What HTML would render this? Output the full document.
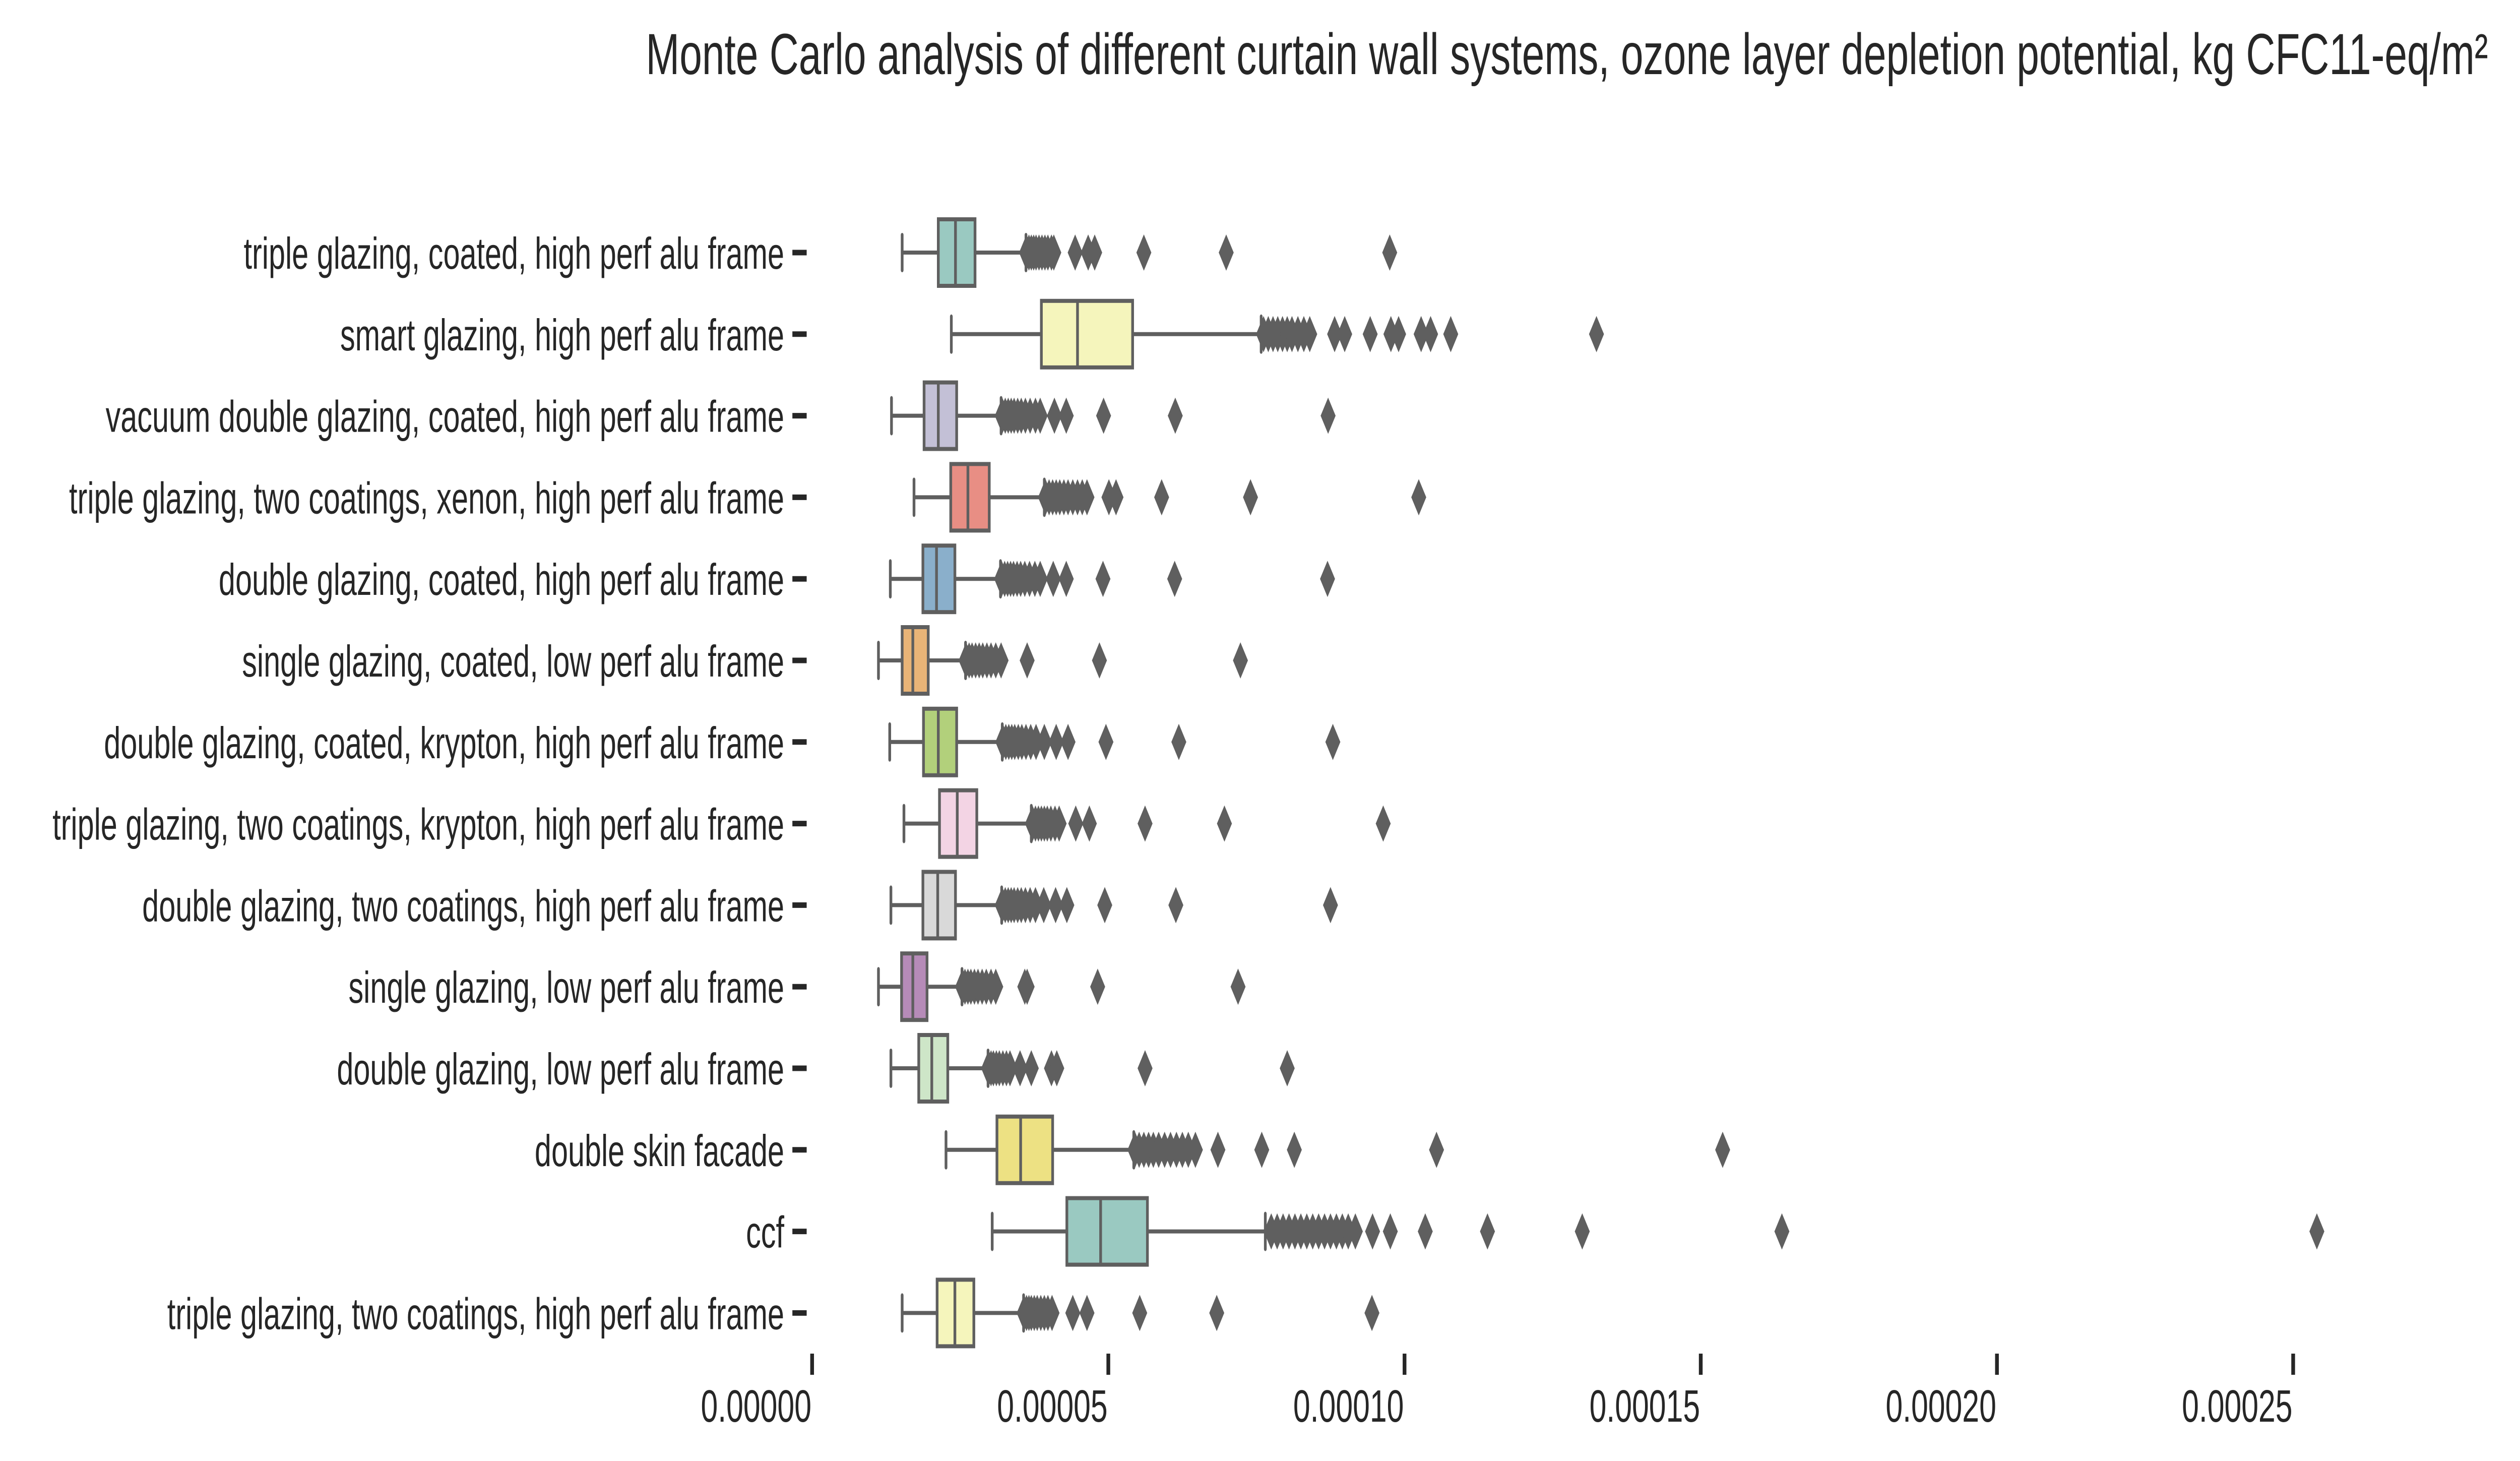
<!DOCTYPE html>
<html><head><meta charset="utf-8">
<style>
html,body{margin:0;padding:0;background:#fff;overflow:hidden;width:100%;height:100%;}
svg{display:block;width:100vw;height:100vh;}
text{font-family:"Liberation Sans",Arial,sans-serif;fill:#262626;}
</style></head>
<body>
<svg id="chart" viewBox="0 0 7410 2898" preserveAspectRatio="none" xmlns="http://www.w3.org/2000/svg">
<rect width="7410" height="2898" fill="#fff"/>
<text x="1899" y="147" font-size="115" textLength="5417" lengthAdjust="spacingAndGlyphs">Monte Carlo analysis of different curtain wall systems, ozone layer depletion potential, kg CFC11-eq/m²</text>
<g id="plot"></g>
</svg>
<script>
// values in units of 1e-5 kg CFC11-eq/m²
const categories = ["triple glazing, coated, high perf alu frame","smart glazing, high perf alu frame","vacuum double glazing, coated, high perf alu frame","triple glazing, two coatings, xenon, high perf alu frame","double glazing, coated, high perf alu frame","single glazing, coated, low perf alu frame","double glazing, coated, krypton, high perf alu frame","triple glazing, two coatings, krypton, high perf alu frame","double glazing, two coatings, high perf alu frame","single glazing, low perf alu frame","double glazing, low perf alu frame","double skin facade","ccf","triple glazing, two coatings, high perf alu frame"];
const whiskerLow = [1.52,2.35,1.34,1.72,1.32,1.12,1.31,1.55,1.33,1.12,1.33,2.26,3.04,1.52];
const q1 = [2.13,3.87,1.89,2.34,1.87,1.52,1.88,2.15,1.87,1.51,1.80,3.12,4.30,2.11];
const median = [2.42,4.48,2.13,2.63,2.10,1.70,2.13,2.45,2.12,1.70,2.02,3.52,4.87,2.41];
const q3 = [2.75,5.41,2.44,2.99,2.41,1.96,2.44,2.78,2.42,1.94,2.29,4.06,5.66,2.73];
const whiskerHigh = [3.61,7.58,3.19,3.92,3.18,2.59,3.21,3.70,3.20,2.53,2.97,5.43,7.65,3.57];
const outliers = [
[3.62,3.66,3.70,3.74,3.78,3.83,3.88,3.93,3.98,4.04,4.08,4.44,4.66,4.77,5.6,6.99,9.75],
[7.62,7.7,7.78,7.86,7.94,8.02,8.1,8.2,8.3,8.4,8.82,8.99,9.42,9.77,9.9,10.28,10.44,10.78,13.24],
[3.21,3.26,3.31,3.36,3.41,3.47,3.53,3.6,3.68,3.77,3.85,4.09,4.29,4.92,6.13,8.71],
[3.94,4.0,4.06,4.12,4.18,4.25,4.32,4.4,4.48,4.56,4.64,5.01,5.13,5.9,7.4,10.24],
[3.2,3.25,3.3,3.35,3.4,3.46,3.52,3.59,3.67,3.76,3.85,4.07,4.29,4.91,6.12,8.70],
[2.6,2.65,2.7,2.76,2.82,2.88,2.95,3.02,3.1,3.19,3.63,4.85,7.23],
[3.22,3.27,3.32,3.37,3.42,3.48,3.54,3.61,3.69,3.78,3.92,4.12,4.32,4.96,6.19,8.79],
[3.72,3.77,3.82,3.87,3.92,3.97,4.03,4.1,4.17,4.45,4.68,5.62,6.96,9.64],
[3.21,3.26,3.31,3.36,3.41,3.47,3.53,3.6,3.68,3.77,3.91,4.11,4.30,4.94,6.14,8.75],
[2.54,2.58,2.63,2.68,2.74,2.8,2.87,2.94,3.02,3.1,3.59,3.63,4.82,7.19],
[2.98,3.02,3.06,3.11,3.16,3.22,3.28,3.34,3.51,3.70,4.04,4.13,5.62,8.02],
[5.45,5.52,5.6,5.68,5.76,5.85,5.95,6.05,6.15,6.25,6.35,6.47,6.85,7.59,8.14,10.54,15.37],
[7.75,7.85,7.95,8.05,8.15,8.25,8.35,8.45,8.55,8.65,8.75,8.85,8.95,9.05,9.17,9.46,9.76,10.35,11.4,13.0,16.37,25.40],
[3.58,3.62,3.66,3.7,3.75,3.8,3.86,3.92,3.98,4.05,4.4,4.64,5.53,6.83,9.45]
];
const xTicks = [0,5,10,15,20,25];
const xTickLabels = ["0.00000","0.00005","0.00010","0.00015","0.00020","0.00025"];
const colors = ["#9ac9c1","#f5f5bc","#c3c0d6","#e88e84","#8aafcb","#e9b477","#b2d07b","#f3d4e4","#d9d9d9","#b68bb8","#cee6c8","#ede183","#9ac9c1","#f5f5bc"];

const NS="http://www.w3.org/2000/svg";
const g=document.getElementById('plot');
const X0=2388, PX=871/5;
function xs(v){return X0+v*PX;}
function ys(i){return 501+i*161.8;}
const LC="#5f5f5f";
function mk(tag,attrs){const e=document.createElementNS(NS,tag);for(const k in attrs)e.setAttribute(k,attrs[k]);g.appendChild(e);return e;}

categories.forEach((c,i)=>{
  const y=ys(i);
  const t=mk('text',{x:2306,y:y+32,'font-size':88,'text-anchor':'end'});
  t.textContent=c;
  
  
  const tk=mk('line',{x1:2330,x2:2372,y1:y,y2:y,stroke:'#262626','stroke-width':11});
  
  
  const w1=mk('line',{x1:xs(whiskerLow[i]),x2:xs(q1[i]),y1:y,y2:y,stroke:LC,'stroke-width':8});
  
  
  const w2=mk('line',{x1:xs(q3[i]),x2:xs(whiskerHigh[i]),y1:y,y2:y,stroke:LC,'stroke-width':8});
  
  
  [whiskerLow[i],whiskerHigh[i]].forEach(v=>{
    const cp=mk('line',{x1:xs(v),x2:xs(v),y1:y-35,y2:y+35,stroke:LC,'stroke-width':8,'stroke-linecap':'round'});
    
    
  });
  const b=mk('rect',{x:xs(q1[i]),y:y-66,width:xs(q3[i])-xs(q1[i]),height:132,fill:colors[i],stroke:LC,'stroke-width':8});
  
  
  const m=mk('line',{x1:xs(median[i]),x2:xs(median[i]),y1:y-66,y2:y+66,stroke:LC,'stroke-width':8});
  
  
  outliers[i].forEach(v=>{
    const cx=xs(v);
    const p=mk('polygon',{points:`${cx},${y-36} ${cx+22},${y} ${cx},${y+36} ${cx-22},${y}`,fill:LC});
    
    
  });
});
xTicks.forEach((v,k)=>{
  const x=xs(v);
  const l=mk('line',{x1:x,x2:x,y1:2685,y2:2727,stroke:'#262626','stroke-width':11});
  
  
  const t=mk('text',{x:x-2,y:2820,'font-size':90,'text-anchor':'end'});
  t.textContent=xTickLabels[k];
  
  
});
</script>
</body></html>
